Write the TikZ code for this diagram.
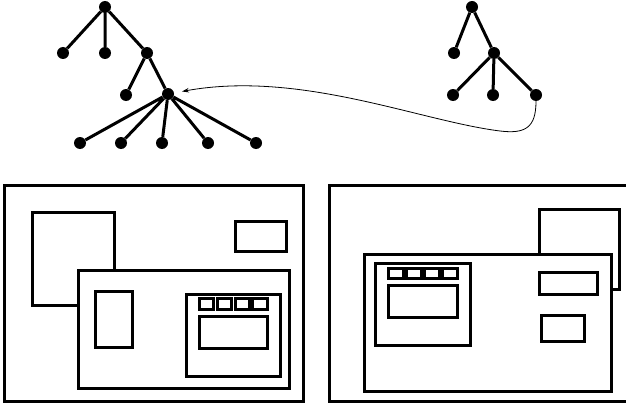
\documentclass[tikz,border=0pt]{standalone}
\usetikzlibrary{arrows.meta}
\begin{document}
\begin{tikzpicture}[x=1pt,y=-1pt,
  dot/.style={circle,fill=black,inner sep=0pt,minimum size=12pt},
  branch/.style={line width=3pt},
  frame/.style={line width=3pt,fill=white},
  link/.style={line width=0.8pt,-{Stealth[length=7pt,width=4.5pt]},shorten >=8pt}]
\clip (0,0) rectangle (626,404);
% left tree
\node[dot] (a)  at (105,7) {};
\node[dot] (a1) at (63,53) {};
\node[dot] (a2) at (105,53) {};
\node[dot] (a3) at (147,53) {};
\node[dot] (b1) at (126,95) {};
\node[dot] (b2) at (168,94) {};
\node[dot] (c1) at (80,143) {};
\node[dot] (c2) at (121,143) {};
\node[dot] (c3) at (162,143) {};
\node[dot] (c4) at (208,143) {};
\node[dot] (c5) at (256,143) {};
\draw[branch] (a)--(a1) (a)--(a2) (a)--(a3) (a3)--(b1) (a3)--(b2)
  (b2)--(c1) (b2)--(c2) (b2)--(c3) (b2)--(c4) (b2)--(c5);
% right tree
\node[dot] (r)  at (472,7) {};
\node[dot] (r1) at (454,53) {};
\node[dot] (r2) at (494,53) {};
\node[dot] (s1) at (453,95) {};
\node[dot] (s2) at (493,95) {};
\node[dot] (s3) at (536,95) {};
\draw[branch] (r)--(r1) (r)--(r2) (r2)--(s1) (r2)--(s2) (r2)--(s3);
% connector
\coordinate (bend) at (500,131);
\draw[link] (s3.south) .. controls (536,128) and (525,134) .. (bend)
  .. controls (420,121) and (300,70) .. (b2);
% left screen
\draw[frame] (4,185) rectangle (303,401);
\draw[frame] (32,212) rectangle (114,305);
\draw[frame] (235,221) rectangle (286,251);
\draw[frame] (78,270) rectangle (289,388);
\draw[frame] (95,291) rectangle (132,347);
\draw[frame] (186,294) rectangle (280,376);
\draw[frame] (199,298) rectangle (213,309);
\draw[frame] (217,298) rectangle (231,309);
\draw[frame] (235,298) rectangle (249,309);
\draw[frame] (252,298) rectangle (267,309);
\draw[frame] (199,316) rectangle (267,348);
% right screen
\draw[frame] (329,185) rectangle (660,401);
\draw[frame] (539,209) rectangle (619,289);
\draw[frame] (364,254) rectangle (611,391);
\draw[frame] (375,263) rectangle (470,345);
\draw[frame] (388,268) rectangle (403,278);
\draw[frame] (406,268) rectangle (421,278);
\draw[frame] (424,268) rectangle (439,278);
\draw[frame] (442,268) rectangle (457,278);
\draw[frame] (388,285) rectangle (457,317);
\draw[frame] (539,272) rectangle (597,294);
\draw[frame] (541,315) rectangle (584,341);
\end{tikzpicture}
\end{document}
